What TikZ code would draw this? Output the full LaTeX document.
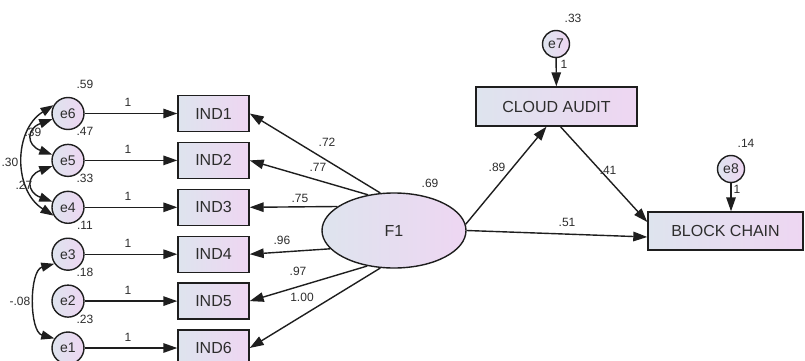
\documentclass[tikz,border=0pt]{standalone}
\usepackage{fontspec}
\setmainfont{Liberation Sans}
\usetikzlibrary{shapes.geometric,arrows.meta}
\definecolor{boxL}{RGB}{222,228,238}
\definecolor{boxR}{RGB}{238,214,242}
\definecolor{txt}{RGB}{45,45,45}
\definecolor{linec}{RGB}{30,30,30}
\begin{document}
\begin{tikzpicture}[x=1pt,y=1pt,
  box/.style={draw=linec, line width=1.4pt, left color=boxL, right color=boxR, minimum width=71pt, minimum height=36pt, inner sep=0pt, font=\fontsize{16}{18}\selectfont, text=txt},
  err/.style={circle, draw=linec, line width=1.4pt, left color=boxL, right color=boxR, minimum size=32pt, inner sep=0pt, font=\fontsize{14}{16}\selectfont, text=txt},
  lat/.style={ellipse, draw=linec, line width=1.4pt, left color=boxL, right color=boxR, minimum width=144pt, minimum height=75pt, inner sep=0pt, font=\fontsize{16}{18}\selectfont, text=txt},
  arr/.style={-{Triangle[length=14pt,width=9.5pt]}, line width=1.4pt, draw=linec},
  cov/.style={{Triangle[length=13pt,width=9pt]}-{Triangle[length=13pt,width=9pt]}, line width=1.4pt, draw=linec},
  lbl/.style={font=\fontsize{12}{14}\selectfont, text=txt, inner sep=0pt}]
\path[use as bounding box] (0,0) rectangle (805,360);
% indicators
\node[box] (IND1) at (213.5,246.5) {IND1};
\node[box] (IND2) at (213.5,199.6) {IND2};
\node[box] (IND3) at (213.5,152.7) {IND3};
\node[box] (IND4) at (213.5,105.8) {IND4};
\node[box] (IND5) at (213.5,58.9) {IND5};
\node[box] (IND6) at (213.5,12) {IND6};
% errors
\node[err] (e6) at (68,246.5) {e6};
\node[err] (e5) at (68,199.6) {e5};
\node[err] (e4) at (68,152.7) {e4};
\node[err] (e3) at (68,105.8) {e3};
\node[err] (e2) at (68,58.9) {e2};
\node[err] (e1) at (68,12) {e1};
% latent and outcomes
\node[lat] (F1) at (394,129.5) {F1};
\node[box, minimum width=161pt, minimum height=39pt] (CA) at (556.5,253.5) {CLOUD AUDIT};
\node[box, minimum width=155pt, minimum height=38pt] (BC) at (725.5,129) {BLOCK CHAIN};
\node[err, minimum size=27pt] (e7) at (556,316) {e7};
\node[err, minimum size=27pt] (e8) at (731,191) {e8};
% error paths
\draw[arr] (e6) -- (IND1);
\draw[arr] (e5) -- (IND2);
\draw[arr] (e4) -- (IND3);
\draw[arr] (e3) -- (IND4);
\draw[arr] (e2) -- (IND5);
\draw[arr] (e1) -- (IND6);
\node[lbl] (o1) at (128,257.5) {1};
\node[lbl] (o2) at (128,210.6) {1};
\node[lbl] (o3) at (128,163.7) {1};
\node[lbl] (o4) at (128,116.8) {1};
\node[lbl] (o5) at (128,69.9) {1};
\node[lbl] (o6) at (128,23) {1};
% variances
\node[lbl] (v6) at (85,275.5) {.59};
\node[lbl] (v5) at (85,228.6) {.47};
\node[lbl] (v4) at (85,181.7) {.33};
\node[lbl] (v3) at (85,134.8) {.11};
\node[lbl] (v2) at (85,87.9) {.18};
\node[lbl] (v1) at (85,41) {.23};
% covariances
\draw[cov] (e6.150) to[out=212,in=148,looseness=1.1] (e4.210);
\draw[cov] (e6.200) to[out=200,in=160,looseness=2] (e5.160);
\draw[cov] (e5.200) to[out=200,in=160,looseness=2] (e4.160);
\draw[cov] (e3.215) to[out=195,in=165,looseness=0.9] (e1.145);
\node[lbl] (c1) at (33,228) {.39};
\node[lbl] (c2) at (10,198) {.30};
\node[lbl] (c3) at (24,175) {.27};
\node[lbl] (c4) at (20,59) {-.08};
% loadings
\draw[arr] (F1.110) -- (IND1.east);
\draw[arr] (F1.126) -- (IND2.east);
\draw[arr] (F1.157) -- (IND3.east);
\draw[arr] (F1.196) -- (IND4.east);
\draw[arr] (F1.233) -- (IND5.east);
\draw[arr] (F1.250) -- (IND6.east);
\node[lbl] (l1) at (327,218) {.72};
\node[lbl] (l2) at (318,193) {.77};
\node[lbl] (l3) at (300,162) {.75};
\node[lbl] (l4) at (282,120) {.96};
\node[lbl] (l5) at (298,89) {.97};
\node[lbl] (l6) at (302,63) {1.00};
\node[lbl] (vF) at (430,177) {.69};
% structural paths
\draw[arr] (F1.5) -- ([xshift=-10pt]CA.south);
\draw[arr] ([xshift=4pt]CA.south) -- ([yshift=9pt]BC.west);
\draw[arr] (F1.east) -- ([yshift=-6pt]BC.west);
\node[lbl] (s1) at (497,193) {.89};
\node[lbl] (s2) at (608,190) {.41};
\node[lbl] (s3) at (567,138) {.51};
% e7, e8
\draw[arr] (e7) -- (CA);
\draw[arr] (e8) -- (e8 |- BC.north);
\node[lbl] (v7) at (573,342) {.33};
\node[lbl] (o7) at (564,296) {1};
\node[lbl] (v8) at (746,217) {.14};
\node[lbl] (o8) at (737,171) {1};
\end{tikzpicture}
\end{document}
